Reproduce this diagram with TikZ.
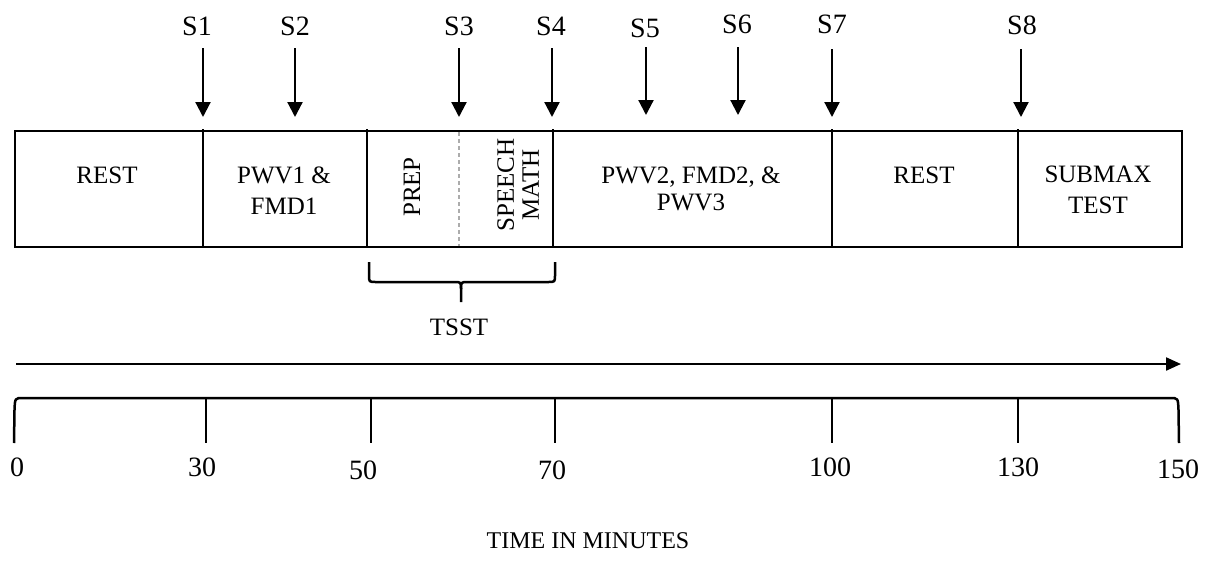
\documentclass[tikz,border=0pt]{standalone}
\usepackage{fontspec}
\setmainfont{Liberation Serif}
\usetikzlibrary{arrows.meta}
\begin{document}
\begin{tikzpicture}[x=1pt,y=-1pt,
  slbl/.style={inner sep=0pt, font=\fontsize{28}{32}\selectfont},
  boxtxt/.style={inner sep=0pt, align=center, font=\fontsize{25}{31}\selectfont},
  num/.style={inner sep=0pt, font=\fontsize{28}{32}\selectfont},
  frame/.style={line width=2.3pt},
  sarrow/.style={line width=2.2pt, -{Triangle[length=15pt,width=15pt]}},
  ]
\useasboundingbox (0,0) rectangle (1210,560);
% main box
\draw[frame] (15,131) rectangle (1182,247);
% dividers
\foreach \x/\n in {203/d1,367/d2,553/d4,832/d7,1018/d8}{
  \coordinate (\n t) at (\x,129);
  \coordinate (\n b) at (\x,247);
  \draw[frame] (\n t) -- (\n b);
}
\coordinate (d3t) at (459,132);
\coordinate (d3b) at (459,246);
\draw[line width=1.6pt, gray!65, dash pattern=on 4pt off 3pt] (d3t) -- (d3b);
% sample labels and arrows
\foreach \n/\lx/\ly/\ax/\at/\ab in {S1/197/26/203/48/117, S2/295/26/295/48/117, S3/459/26/459/48/117, S4/551/26/552/48/117, S5/645/28/646/47/115, S6/737/24/738/47/115, S7/832/24/832/49/117, S8/1022/25/1021/49/117}{
  \node[slbl] (\n) at (\lx,\ly) {\n};
  \coordinate (\n top) at (\ax,\at);
  \coordinate (\n tip) at (\ax,\ab);
  \draw[sarrow] (\n top) -- (\n tip);
}
% box texts
\node[boxtxt] (rest1) at (107,175) {REST};
\node[boxtxt] (pwv1) at (284,191) {PWV1 \&\\FMD1};
\node[boxtxt, rotate=90] (prep) at (412,187) {PREP};
\node[boxtxt, rotate=90, font=\fontsize{25}{25}\selectfont] (speech) at (518,185) {SPEECH\\MATH};
\node[boxtxt, font=\fontsize{25}{27}\selectfont] (pwv2) at (691,189) {PWV2, FMD2, \&\\PWV3};
\node[boxtxt] (rest2) at (924,175) {REST};
\node[boxtxt] (submax) at (1098,190) {SUBMAX\\TEST};
% TSST brace
\draw[line width=2.5pt, line join=round]
  (369,262) -- (369,275) .. controls (369,282) .. (376,282) -- (454,282)
  .. controls (461,282) .. (461,289) -- (461,302);
\draw[line width=2.5pt, line join=round]
  (555,262) -- (555,275) .. controls (555,282) .. (548,282) -- (468,282)
  .. controls (461,282) .. (461,289);
\node[inner sep=0pt, font=\fontsize{25}{28}\selectfont] (tsst) at (459,327) {TSST};
% time arrow
\coordinate (ta) at (16,364);
\coordinate (tb) at (1181,364);
\draw[line width=2.2pt, -{Triangle[length=15pt,width=13pt]}] (ta) -- (tb);
% bracket axis
\draw[line width=2.5pt]
  (14,443) -- (14.5,410) .. controls (15,398) .. (23,398) -- (1170,398)
  .. controls (1178,398) .. (1178.5,410) -- (1179,443);
\foreach \x in {206,371,555,832,1018}{
  \draw[line width=2.3pt] (\x,398) -- (\x,443);
}
% numbers
\node[num] (n0) at (17,467) {0};
\node[num] (n30) at (202,467) {30};
\node[num] (n50) at (363,470) {50};
\node[num] (n70) at (552,470) {70};
\node[num] (n100) at (830,467) {100};
\node[num] (n130) at (1018,467) {130};
\node[num] (n150) at (1178,469) {150};
\node[inner sep=0pt, font=\fontsize{24}{28}\selectfont] (time) at (588,541) {TIME IN MINUTES};
\end{tikzpicture}
\end{document}
